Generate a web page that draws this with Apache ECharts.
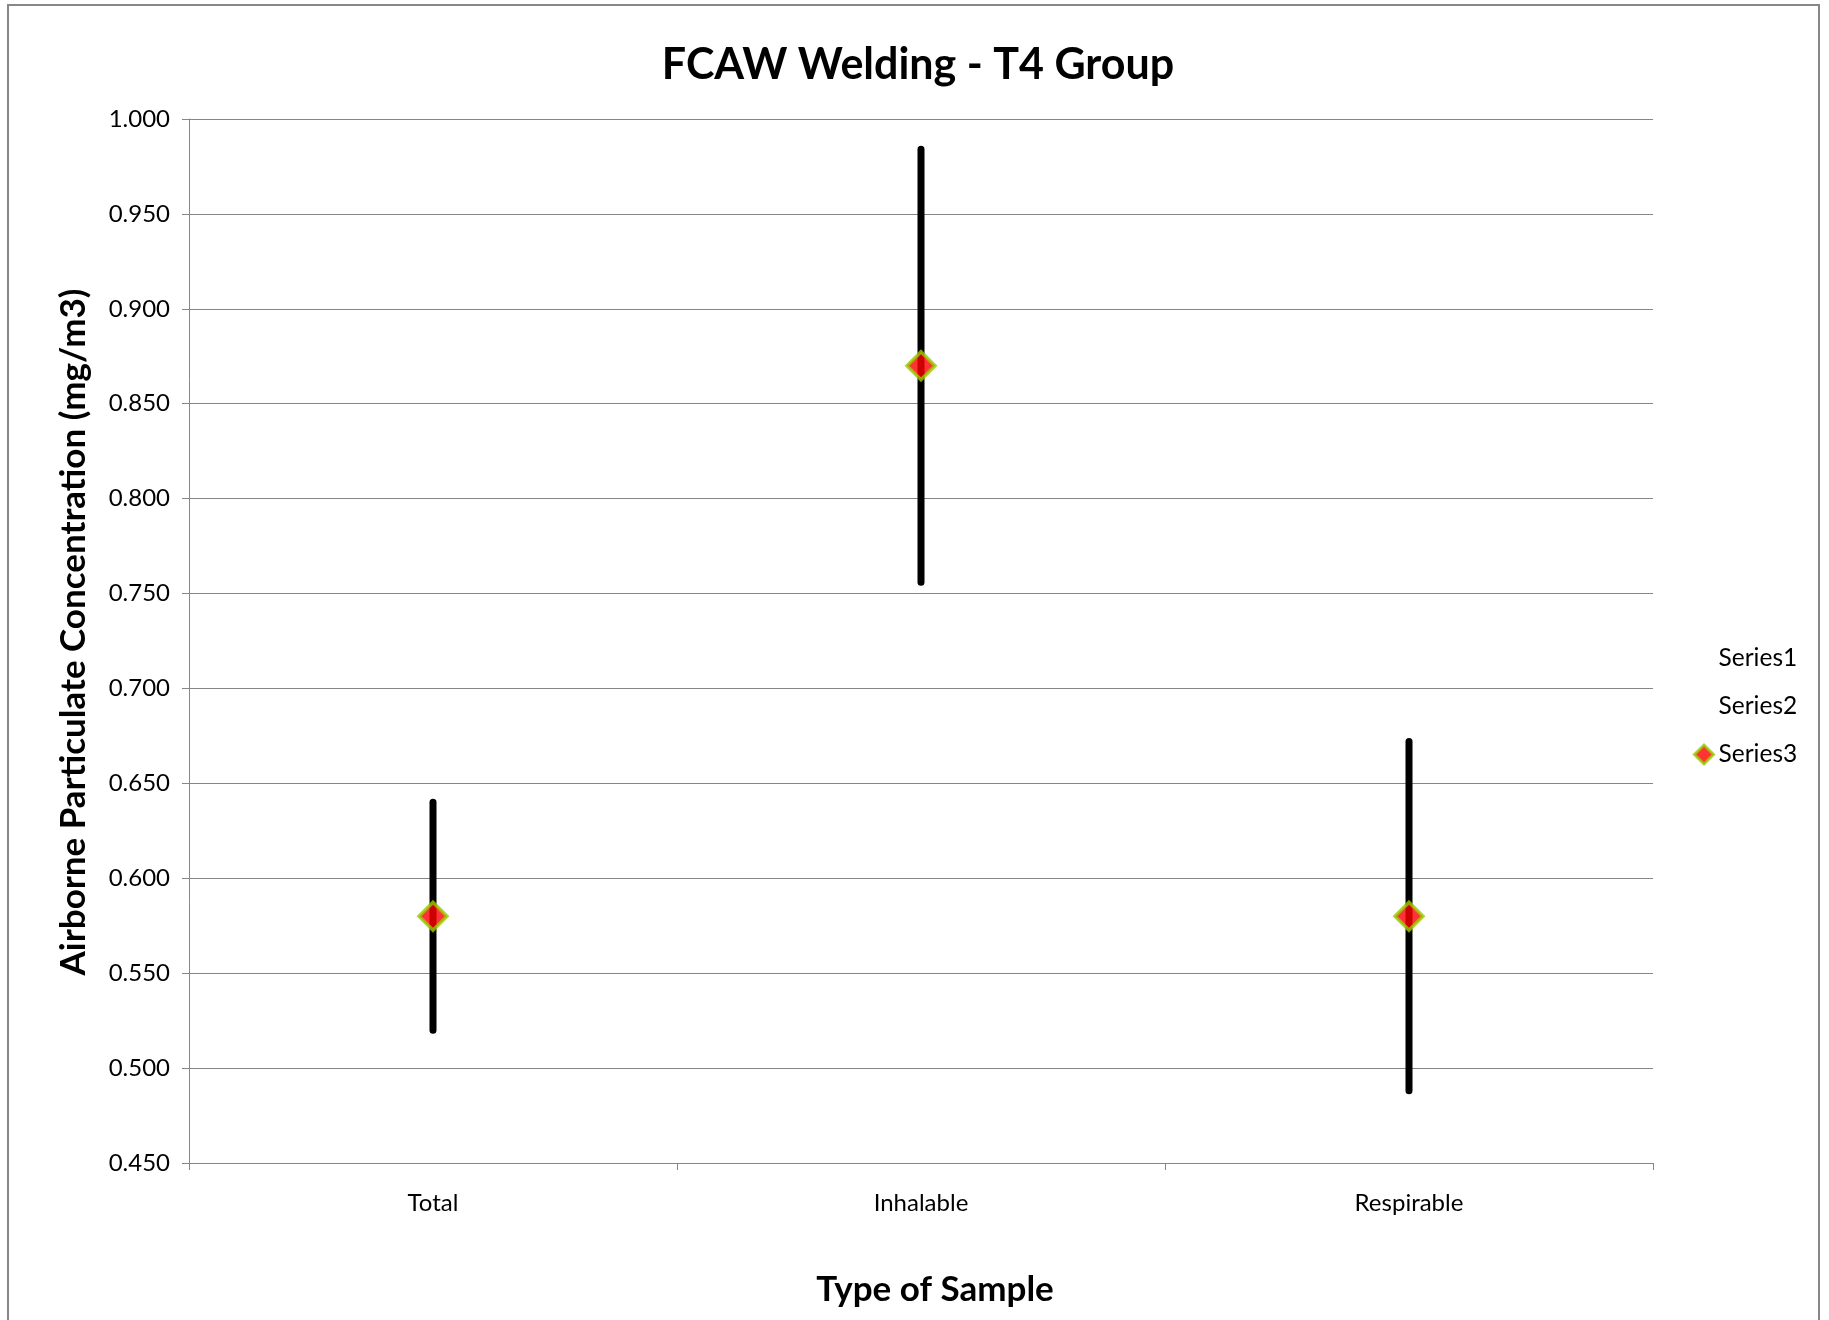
<!DOCTYPE html>
<html>
<head>
<meta charset="utf-8">
<script src="https://cdn.jsdelivr.net/npm/echarts@6/dist/echarts.min.js"></script>
<style>
html,body{margin:0;padding:0;background:#fff;}
#chart{width:1829px;height:1320px;}
</style>
</head>
<body>
<div id="chart"></div>
<script>
// ---- data ----
var categories = ['Total', 'Inhalable', 'Respirable'];
var highValues = [0.640, 0.984, 0.672];   // Series1
var lowValues  = [0.520, 0.756, 0.488];   // Series2
var meanValues = [0.580, 0.870, 0.580];   // Series3
var yTicks = { min: 0.45, max: 1.0, interval: 0.05 };

var chart = echarts.init(document.getElementById('chart'));
var FONT = 'Lato';
var GRID = '#868686';

var hiloData = categories.map(function (c, i) { return [i, highValues[i], lowValues[i]]; });

chart.setOption({
  animation: false,
  backgroundColor: '#fff',
  graphic: [{
    type: 'rect',
    shape: { x: 8, y: 5, width: 1811, height: 1340 },
    style: { fill: 'none', stroke: '#878787', lineWidth: 2 },
    silent: true
  }],
  title: {
    text: 'FCAW Welding - T4 Group',
    left: 913, top: 39, textAlign: 'center',
    textStyle: { fontFamily: FONT, fontWeight: 'bold', fontSize: 43, color: '#000' }
  },
  legend: {
    orient: 'vertical',
    left: 1688, top: 641,
    itemWidth: 19, itemHeight: 19,
    itemGap: 23,
    textStyle: { fontFamily: FONT, fontSize: 24.5, color: '#000', lineHeight: 25 },
    data: [
      { name: 'Series1', icon: 'rect', itemStyle: { color: 'rgba(0,0,0,0)', borderWidth: 0 } },
      { name: 'Series2', icon: 'rect', itemStyle: { color: 'rgba(0,0,0,0)', borderWidth: 0 } },
      { name: 'Series3', icon: 'diamond', itemStyle: { color: '#FF0000', borderColor: '#99CC00', borderWidth: 3 } }
    ]
  },
  grid: { left: 189, right: 176, top: 119, bottom: 157, containLabel: false },
  xAxis: {
    type: 'category',
    data: categories,
    boundaryGap: true,
    name: 'Type of Sample',
    nameLocation: 'middle',
    nameGap: 109,
    nameTextStyle: { fontFamily: FONT, fontWeight: 'bold', fontSize: 35, color: '#000', padding: [0, 0, 0, 28] },
    axisLine: { lineStyle: { color: GRID, width: 1 } },
    axisTick: { show: true, alignWithLabel: false, length: 7, lineStyle: { color: GRID } },
    axisLabel: { fontFamily: FONT, fontSize: 24, color: '#000', margin: 28 },
    splitLine: { show: false }
  },
  yAxis: {
    type: 'value',
    min: yTicks.min, max: yTicks.max, interval: yTicks.interval,
    name: 'Airborne Particulate Concentration (mg/m3)',
    nameLocation: 'middle',
    nameRotate: 90,
    nameGap: 98,
    nameTextStyle: { fontFamily: FONT, fontWeight: 'bold', fontSize: 35, color: '#000', padding: [0, 0, 0, 18] },
    axisLine: { show: true, lineStyle: { color: GRID, width: 1 } },
    axisTick: { show: true, length: 7, lineStyle: { color: GRID } },
    axisLabel: {
      fontFamily: FONT, fontSize: 24, color: '#000', margin: 19,
      formatter: function (v) { return v.toFixed(3); }
    },
    splitLine: { show: true, lineStyle: { color: GRID, width: 1 } }
  },
  series: [
    {
      name: 'Series1', type: 'line', data: highValues,
      symbol: 'none', lineStyle: { opacity: 0 }, itemStyle: { color: 'rgba(0,0,0,0)' },
      silent: true
    },
    {
      name: 'Series2', type: 'line', data: lowValues,
      symbol: 'none', lineStyle: { opacity: 0 }, itemStyle: { color: 'rgba(0,0,0,0)' },
      silent: true
    },
    {
      name: 'hilo', type: 'custom', data: hiloData, z: 3,
      encode: { x: 0, y: [1, 2] },
      renderItem: function (params, api) {
        var p1 = api.coord([api.value(0), api.value(1)]);
        var p2 = api.coord([api.value(0), api.value(2)]);
        return {
          type: 'line',
          shape: { x1: p1[0], y1: p1[1], x2: p2[0], y2: p2[1] },
          style: { stroke: '#000', lineWidth: 7, lineCap: 'round' }
        };
      }
    },
    {
      name: 'Series3', type: 'scatter', data: meanValues, z: 5,
      symbol: 'diamond', symbolSize: 28,
      itemStyle: { color: '#FF0000', borderColor: '#99CC00', borderWidth: 3.5 }
    }
  ]
});
</script>
</body>
</html>
